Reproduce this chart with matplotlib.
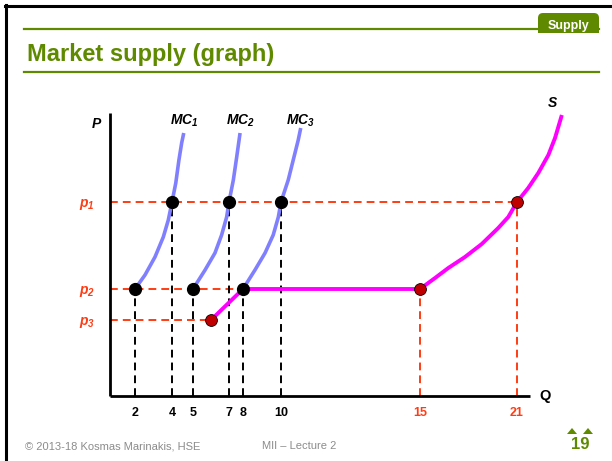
import numpy as np
import matplotlib
matplotlib.use('Agg')
import matplotlib.pyplot as plt
from matplotlib.lines import Line2D
from matplotlib.patches import FancyBboxPatch, Rectangle, Polygon
from matplotlib.transforms import IdentityTransform

plt.rcParams['font.family'] = ['Liberation Sans', 'DejaVu Sans']
plt.rcParams['mathtext.fontset'] = 'custom'
plt.rcParams['mathtext.it'] = 'Liberation Sans:italic:bold'
plt.rcParams['mathtext.rm'] = 'Liberation Sans:italic:bold'
plt.rcParams['mathtext.bf'] = 'Liberation Sans:italic:bold'

# --- data ---
price_labels = [r'$p_1$', r'$p_2$', r'$p_3$']
price_values = [19.4, 10.7, 7.6]          # p1, p2, p3
p1, p2, p3 = price_values

q_ticks = [2, 4, 5, 7, 8, 10, 15, 21]
q_red_ticks = [15, 21]

# each firm: quantity at p2 and at p1
firm_q_low = [2, 5, 8]
firm_q_high = [4, 7, 10]

# market supply points (p3, p2, p1)
market_q = [6, 15, 21]
market_p = [p3, p2, p1]

mc1_q = [2, 2.54, 3.08, 3.53, 3.80, 4, 4.18, 4.33, 4.46, 4.56]
mc1_p = [10.7, 12.1, 13.9, 15.9, 17.6, 19.4, 21.3, 23.6, 25.3, 26.3]
mc2_q = [5, 5.67, 6.22, 6.59, 6.87, 7, 7.31, 7.55, 7.79]
mc2_p = [10.7, 12.6, 14.3, 16.1, 17.9, 19.4, 21.6, 23.9, 26.3]
mc3_q = [8, 8.63, 9.16, 9.59, 9.86, 10, 10.26, 10.44, 10.62, 10.71]
mc3_p = [10.7, 12.6, 14.3, 16.1, 17.9, 19.4, 21.6, 23.6, 25.6, 26.8]
mc_names = [r'$MC_1$', r'$MC_2$', r'$MC_3$']

s_q = [6, 8, 15, 15.93, 16.75, 17.78, 18.82, 19.84, 20.46, 21,
       21.69, 22.31, 22.93, 23.34, 23.76]
s_p = [7.6, 10.7, 10.7, 11.8, 12.8, 13.9, 15.2, 16.8, 17.9, 19.4,
       20.8, 22.3, 24.1, 25.8, 28.1]

# the Q axis on the slide is schematic (not to scale)
axis_q = [0, 2, 4, 5, 7, 8, 10, 15, 21, 25]
axis_pos = [0, 25, 62, 83, 119, 133, 171, 310, 407, 472]

GREEN = '#5f8a00'
RED = '#ff3c14'
DOT_RED = '#c00000'
MC_COL = '#8080ff'
S_COL = '#ff00ff'

W, H = 612, 461
fig = plt.figure(figsize=(W / 100, H / 100), dpi=100)
T = IdentityTransform()


def hline(x0, x1, y, **kw):
    fig.add_artist(Line2D([x0, x1], [H - y, H - y], transform=T, **kw))


# slide frame and header
hline(5, W, 6, color='black', lw=2.2)
fig.add_artist(Line2D([6, 6], [0, H - 5], transform=T, color='black', lw=2.2))
hline(24, 599, 29, color=GREEN, lw=1.6)
hline(24, 599, 72, color=GREEN, lw=1.6)
fig.add_artist(FancyBboxPatch((538, H - 33), 61, 20, transform=T,
                              boxstyle='round,pad=0,rounding_size=5',
                              fc=GREEN, ec='none'))
fig.add_artist(Rectangle((538, H - 33), 61, 8, transform=T, fc=GREEN, ec='none'))
fig.text(569 / W, 1 - 29 / H, 'Supply', color='white', fontsize=9,
         fontweight='bold', ha='center', va='baseline')
fig.text(27 / W, 1 - 61 / H, 'Market supply (graph)', color=GREEN,
         fontsize=17, fontweight='bold', ha='left', va='baseline')

# footer
fig.text(25 / W, 1 - 446 / H, '\u00a9 2013-18 Kosmas Marinakis, HSE',
         color='#8c8c8c', fontsize=8, va='center')
fig.text(262 / W, 1 - 446 / H, 'MII \u2013 Lecture 2',
         color='#8c8c8c', fontsize=8, va='center')
fig.text(580 / W, 1 - 444 / H, '19', color=GREEN, fontsize=12,
         fontweight='bold', ha='center', va='center')
for cx in (572, 588):
    fig.add_artist(Polygon([(cx - 5, H - 434), (cx + 5, H - 434), (cx, H - 428)],
                           transform=T, fc=GREEN, ec='none'))

# --- the graph ---
ax = fig.add_axes([110 / W, (H - 396) / H, 472 / W, 300 / H])
fwd = lambda q: np.interp(q, axis_q, axis_pos)
inv = lambda x: np.interp(x, axis_pos, axis_q)
ax.set_xscale('function', functions=(fwd, inv))
ax.set_xlim(0, 25)
ax.set_ylim(0, 30)
for sp in ax.spines.values():
    sp.set_visible(False)
ax.patch.set_alpha(0)

# axes drawn as lines (the Q axis stops short of the S curve)
ax.plot([0, 0], [0, 28.3], color='black', lw=2, solid_capstyle='butt', clip_on=False)
ax.plot([0, 21.8], [0, 0], color='black', lw=2, solid_capstyle='butt', clip_on=False)

dash = (0, (4, 2.6))
# horizontal price guides
for qe, p in zip(market_q, market_p):
    ax.plot([0, qe], [p, p], color=RED, lw=1.4, ls=dash, zorder=1)
# firm guides
for ql, qh in zip(firm_q_low, firm_q_high):
    ax.plot([ql, ql], [0, p2], color='black', lw=1.4, ls=dash, zorder=1)
    ax.plot([qh, qh], [0, p1], color='black', lw=1.4, ls=dash, zorder=1)
for q, p in zip(market_q[1:], market_p[1:]):
    ax.plot([q, q], [0, p], color=RED, lw=1.4, ls=dash, zorder=1)

# MC curves
for qs, ps in zip([mc1_q, mc2_q, mc3_q], [mc1_p, mc2_p, mc3_p]):
    ax.plot(qs, ps, color=MC_COL, lw=2.6, zorder=2, solid_capstyle='butt',
            solid_joinstyle='round')
# market supply
ax.plot(s_q, s_p, color=S_COL, lw=2.8, zorder=3, solid_capstyle='butt',
        solid_joinstyle='round')

# points
ax.plot(firm_q_low, [p2] * 3, 'o', color='black', ms=8.5, zorder=4)
ax.plot(firm_q_high, [p1] * 3, 'o', color='black', ms=8.5, zorder=4)
ax.plot(market_q, market_p, 'o', color=DOT_RED, mec='black', mew=0.6, ms=8.5, zorder=4)

# labels
for name, qs in zip(mc_names, [mc1_q, mc2_q, mc3_q]):
    ax.text(qs[-1], 27.5, name, fontsize=10, ha='center', va='center')
ax.annotate('P', (0, 28.3), xytext=(-10, -8), textcoords='offset points',
            fontsize=10, fontweight='bold', fontstyle='italic', ha='center', va='center')
ax.annotate('Q', (21.8, 0), xytext=(11, 0), textcoords='offset points',
            fontsize=10.5, fontweight='bold', ha='center', va='center')
ax.annotate('S', (s_q[-1], s_p[-1]), xytext=(-7, 9), textcoords='offset points',
            fontsize=10, fontweight='bold', fontstyle='italic', ha='center', va='center')

ax.set_xticks(q_ticks)
ax.set_xticklabels([str(q) for q in q_ticks], fontsize=9, fontweight='bold')
for lab, q in zip(ax.get_xticklabels(), q_ticks):
    if q in q_red_ticks:
        lab.set_color(RED)
ax.set_yticks(price_values)
ax.set_yticklabels(price_labels, fontsize=10, color=RED)
ax.tick_params(axis='x', length=0, pad=8)
ax.tick_params(axis='y', length=0, pad=11)
ax.xaxis.set_minor_locator(plt.NullLocator())

fig.savefig('out.png', dpi=100)
